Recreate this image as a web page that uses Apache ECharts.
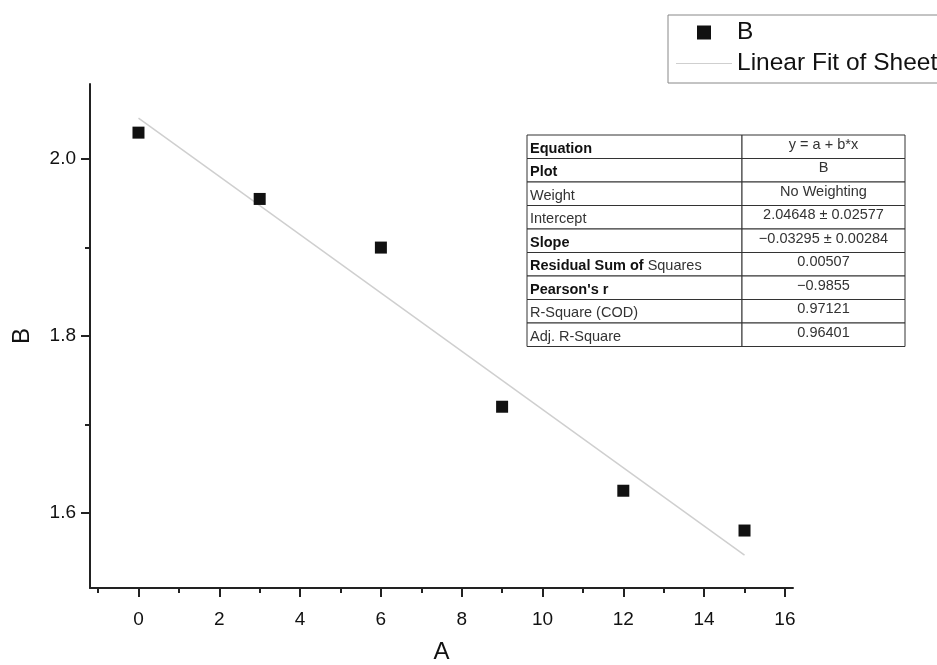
<!DOCTYPE html>
<html>
<head>
<meta charset="utf-8">
<title>Linear Fit of B vs A</title>
<script src="https://cdn.jsdelivr.net/npm/echarts@6/dist/echarts.min.js"></script>
<style>
  html, body { margin: 0; padding: 0; background: #fff; }
  #chart { width: 937px; height: 665px; }
</style>
</head>
<body>
<div id="chart"></div>
<script>
// Measured points
const aValues = [0, 3, 6, 9, 12, 15];
const bValues = [2.03, 1.955, 1.90, 1.72, 1.625, 1.58];

// Fit results (Origin linear fit report)
const intercept = 2.04648;
const slope = -0.03295;

// Axis ticks
const xMajorTicks = [0, 2, 4, 6, 8, 10, 12, 14, 16];
const xMinorTicks = [-1, 1, 3, 5, 7, 9, 11, 13, 15];
const yMajorTicks = [1.6, 1.8, 2.0];
const yMinorTicks = [1.7, 1.9];

// Fit report table rows
const reportLabels = ['{b|Equation}', '{b|Plot}', 'Weight', 'Intercept', '{b|Slope}',
  '{b|Residual Sum of} Squares', "{b|Pearson's r}", 'R-Square (COD)', 'Adj. R-Square'];
const reportValues = ['y = a + b*x', 'B', 'No Weighting', '2.04648 \u00b1 0.02577',
  '\u22120.03295 \u00b1 0.00284', '0.00507', '\u22120.9855', '0.97121', '0.96401'];

const fitName = 'Linear Fit of Sheet1 B';
const fitX = [aValues[0], aValues[aValues.length - 1]];
const fitLine = fitX.map(x => [x, intercept + slope * x]);

const FONT = 'Liberation Sans, Arial, sans-serif';
const INK = '#111';
const FIT_COLOR = '#cfcfcf';
const TABLE_FONT = 14.5;

// Report table built as graphic elements
const tblLeft = 527, tblTop = 135, colSplit = 215, tblWidth = 378, rowH = 23.5;
const tableChildren = [];
reportLabels.forEach((label, i) => {
  const y = i * rowH;
  tableChildren.push({
    type: 'rect',
    shape: { x: 0, y: y, width: colSplit, height: rowH },
    style: { fill: '#fff', stroke: '#333', lineWidth: 1 }
  });
  tableChildren.push({
    type: 'rect',
    shape: { x: colSplit, y: y, width: tblWidth - colSplit, height: rowH },
    style: { fill: '#fff', stroke: '#333', lineWidth: 1 }
  });
  tableChildren.push({
    type: 'text',
    x: 3, y: y + rowH / 2 + 2,
    style: {
      text: label, fontFamily: FONT, fontSize: TABLE_FONT, fill: '#333',
      verticalAlign: 'middle', align: 'left',
      rich: { b: { fontFamily: FONT, fontSize: TABLE_FONT, fontWeight: 'bold', fill: '#111' } }
    }
  });
  tableChildren.push({
    type: 'text',
    x: colSplit + (tblWidth - colSplit) / 2, y: y + rowH / 2 - 2,
    style: {
      text: reportValues[i], fontFamily: FONT, fontSize: TABLE_FONT, fill: '#333',
      verticalAlign: 'middle', align: 'center'
    }
  });
});

const chart = echarts.init(document.getElementById('chart'), null, { renderer: 'canvas' });

const xCommon = { type: 'value', min: -1.2, max: 16.2, gridIndex: 0, position: 'bottom', splitLine: { show: false } };
const yCommon = { type: 'value', min: 1.515, max: 2.085, gridIndex: 0, position: 'left', splitLine: { show: false } };

chart.setOption({
  backgroundColor: '#fff',
  animation: false,
  grid: { left: 90, right: 144, top: 84, bottom: 77, outerBoundsMode: 'none', containLabel: false },
  legend: {
    orient: 'vertical',
    left: 668, top: 15,
    padding: [5, 10, 7, 8],
    itemWidth: 56, itemHeight: 14, itemGap: 6,
    borderColor: '#888', borderWidth: 1,
    textStyle: { fontFamily: FONT, fontSize: 24.5, color: INK },
    data: [
      { name: 'B', icon: 'path://M0,0H10V10H0Z', itemStyle: { color: INK, opacity: 1 } },
      { name: fitName, icon: 'path://M0,0H56V1H0Z', itemStyle: { color: FIT_COLOR, opacity: 1 } }
    ]
  },
  xAxis: [
    Object.assign({}, xCommon, {
      name: 'A', nameLocation: 'middle', nameGap: 52,
      nameTextStyle: { fontFamily: FONT, fontSize: 24, color: INK },
      axisLine: { show: true, onZero: false, lineStyle: { color: '#222', width: 2 } },
      axisTick: { show: true, inside: false, length: 9, customValues: xMajorTicks, lineStyle: { color: '#222', width: 2 } },
      axisLabel: { show: true, margin: 22, customValues: xMajorTicks, fontFamily: FONT, fontSize: 19, color: INK }
    }),
    Object.assign({}, xCommon, {
      axisLine: { show: false, onZero: false },
      axisTick: { show: true, inside: false, length: 5, customValues: xMinorTicks, lineStyle: { color: '#222', width: 2 } },
      axisLabel: { show: false }
    })
  ],
  yAxis: [
    Object.assign({}, yCommon, {
      name: 'B', nameLocation: 'middle', nameGap: 56,
      nameTextStyle: { fontFamily: FONT, fontSize: 24, color: INK },
      axisLine: { show: true, onZero: false, lineStyle: { color: '#222', width: 2 } },
      axisTick: { show: true, inside: false, length: 9, customValues: yMajorTicks, lineStyle: { color: '#222', width: 2 } },
      axisLabel: { show: true, margin: 14, customValues: yMajorTicks, fontFamily: FONT, fontSize: 19, color: INK,
        formatter: v => v.toFixed(1) }
    }),
    Object.assign({}, yCommon, {
      axisLine: { show: false, onZero: false },
      axisTick: { show: true, inside: false, length: 5, customValues: yMinorTicks, lineStyle: { color: '#222', width: 2 } },
      axisLabel: { show: false }
    })
  ],
  series: [
    {
      name: 'B', type: 'scatter', xAxisIndex: 0, yAxisIndex: 0,
      symbol: 'rect', symbolSize: 12,
      itemStyle: { color: INK, opacity: 1 },
      data: aValues.map((a, i) => [a, bValues[i]]),
      z: 3
    },
    {
      name: fitName, type: 'line', xAxisIndex: 0, yAxisIndex: 0,
      showSymbol: false, symbol: 'none',
      lineStyle: { color: FIT_COLOR, width: 1.5 },
      itemStyle: { color: FIT_COLOR },
      data: fitLine,
      z: 2
    }
  ],
  graphic: [
    { type: 'group', x: tblLeft, y: tblTop, children: tableChildren }
  ]
});
</script>
</body>
</html>
